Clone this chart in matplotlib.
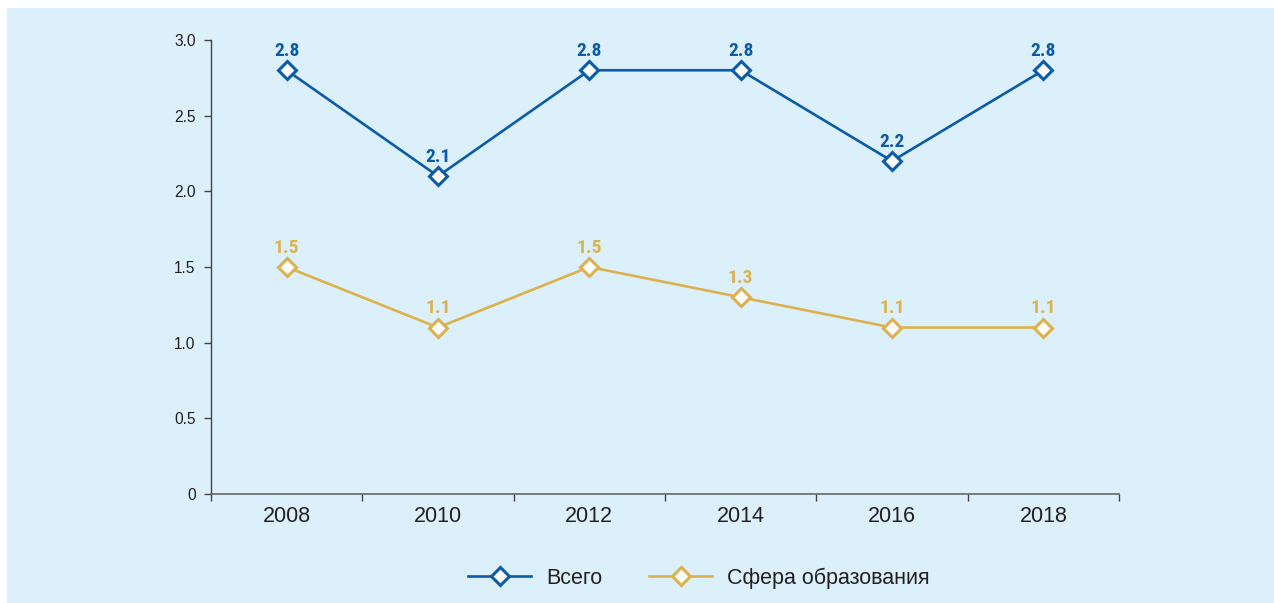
import matplotlib
matplotlib.use("Agg")
import matplotlib.pyplot as plt
from matplotlib.patches import Rectangle
from matplotlib.lines import Line2D
from matplotlib import font_manager
import numpy as np

years = ["2008", "2010", "2012", "2014", "2016", "2018"]
total = [2.8, 2.1, 2.8, 2.8, 2.2, 2.8]
education = [1.5, 1.1, 1.5, 1.3, 1.1, 1.1]
series_names = ["Всего", "Сфера образования"]
y_ticks = [0, 0.5, 1.0, 1.5, 2.0, 2.5, 3.0]
y_tick_labels = ["0", "0.5", "1.0", "1.5", "2.0", "2.5", "3.0"]

BLUE = "#0b5ba8"
GOLD = "#dcb24e"
BG = "#dcf0fb"
TXT = "#231f20"

plt.rcParams['font.family'] = ['Liberation Sans', 'DejaVu Sans']

names = {f.name for f in font_manager.fontManager.ttflist}
label_family = [n for n in ["Roboto Condensed", "Archivo Narrow", "PT Sans Narrow"] if n in names][:1] \
    + ["Liberation Sans", "DejaVu Sans"]

W, H = 1274, 603
fig = plt.figure(figsize=(W / 100, H / 100), dpi=100, facecolor="white")
fig.patches.append(Rectangle((7 / W, 0), 1 - 7 / W, (H - 8) / H,
                             transform=fig.transFigure, facecolor=BG,
                             edgecolor="none", zorder=-10))

ax = fig.add_axes([211 / W, 1 - 494 / H, (1119 - 211) / W, (494 - 40) / H])
ax.set_facecolor("none")

x = np.arange(len(years))
for vals, col in [(total, BLUE), (education, GOLD)]:
    ax.plot(x, vals, color=col, lw=1.9, marker="D", ms=9, mfc="white",
            mec=col, mew=2.2, zorder=3, clip_on=False)
    for xi, v in zip(x, vals):
        ax.annotate(f"{v:.1f}", (xi, v), xytext=(0, 14), textcoords="offset points",
                    ha="center", va="center", color=col, fontsize=14,
                    fontweight="bold", family=label_family)

ax.set_xlim(-0.5, len(years) - 0.5)
ax.set_ylim(0, 3.0)
ax.set_yticks(y_ticks)
ax.set_yticklabels(y_tick_labels, fontsize=11.2, color=TXT)
ax.set_xticks(np.arange(-0.5, len(years), 1.0))
ax.set_xticklabels([])
ax.set_xticks(x, minor=True)
ax.set_xticklabels(years, minor=True, fontsize=15.5, color=TXT)
ax.tick_params(axis="x", which="minor", length=0, pad=9)
ax.tick_params(axis="x", which="major", length=5, width=1, color="#444444", direction="out")
ax.tick_params(axis="y", length=5, width=1, color="#444444", direction="out", pad=6)

for s in ["top", "right"]:
    ax.spines[s].set_visible(False)
ax.spines["left"].set_color("#444444")
ax.spines["bottom"].set_color("#666666")
ax.spines["left"].set_linewidth(1)
ax.spines["bottom"].set_linewidth(1.2)

handles = [Line2D([], [], color=c, lw=1.9, marker="D", ms=9, mfc="white",
                  mec=c, mew=2.2) for c in (BLUE, GOLD)]
leg = fig.legend(handles, series_names, loc="center", bbox_to_anchor=(699 / W, 1 - 578 / H),
                 ncol=2, frameon=False, fontsize=15.5, handlelength=2.9,
                 columnspacing=2.2, handletextpad=0.7)
for t in leg.get_texts():
    t.set_color(TXT)

fig.savefig("out.png", dpi=100, facecolor="white")
